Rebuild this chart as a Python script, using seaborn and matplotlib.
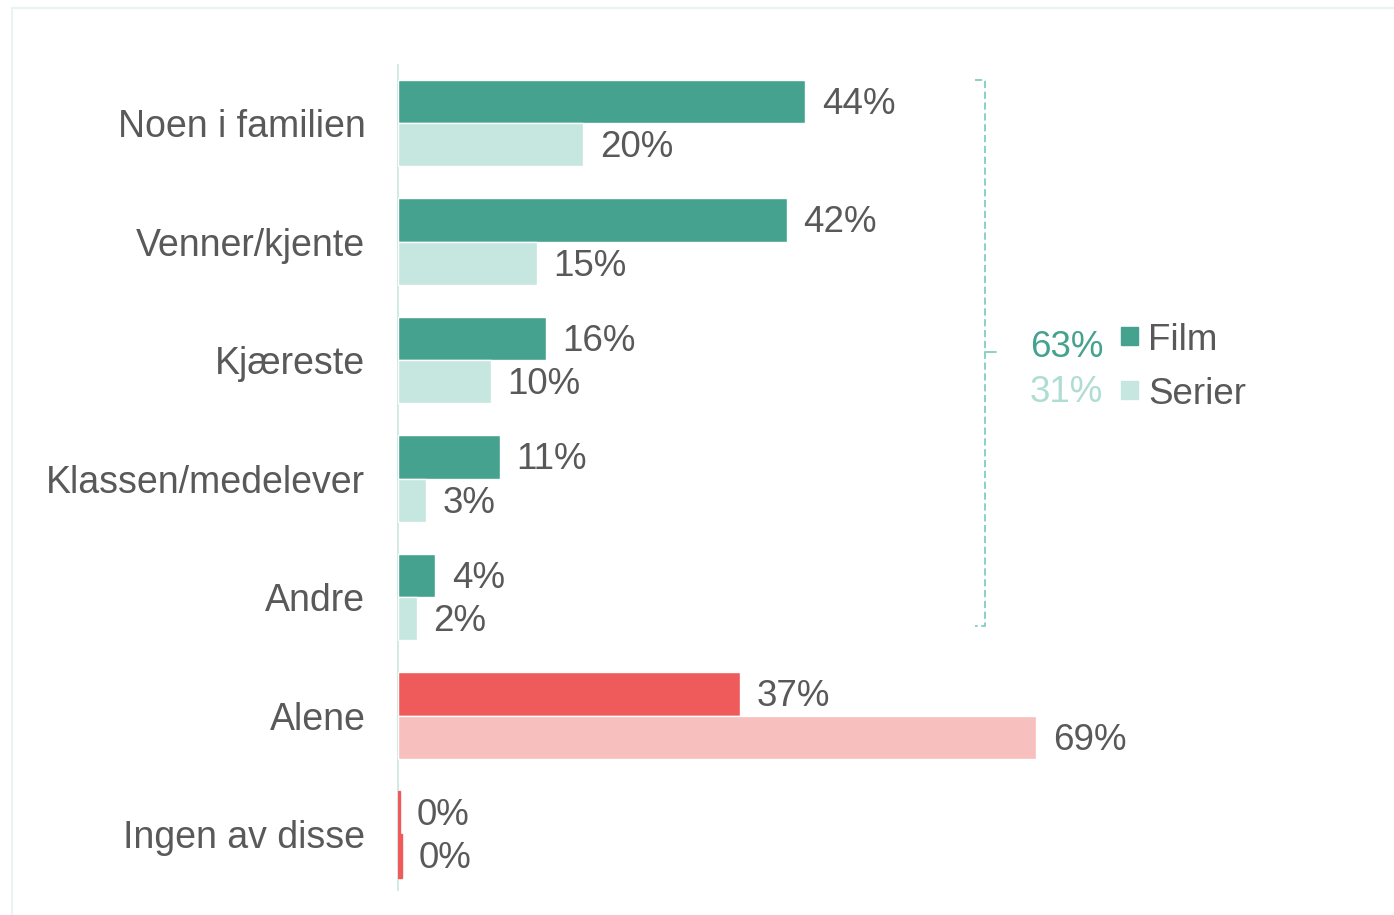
import matplotlib.pyplot as plt
import matplotlib.patches as mpatches
import seaborn as sns
import pandas as pd

# data
categories = ["Noen i familien", "Venner/kjente", "Kjæreste", "Klassen/medelever",
              "Andre", "Alene", "Ingen av disse"]
series = ["Film", "Serier"]
film = [44, 42, 16, 11, 4, 37, 0.25]
serier = [20, 15, 10, 3, 2, 69, 0.45]
totals = [63, 31]  # net "with others"

film_col = "#45A28E"
serier_col = "#C6E6E0"
alone_film_col = "#EF5B5B"
alone_serier_col = "#F7BFBE"
text_col = "#595959"

rows = []
for c, f, s in zip(categories, film, serier):
    rows.append({"Kategori": c, "Serie": "Film", "Andel": f})
    rows.append({"Kategori": c, "Serie": "Serier", "Andel": s})
df = pd.DataFrame(rows)

sns.set_style("white")
plt.rcParams["font.family"] = ["Liberation Sans", "DejaVu Sans"]

fig = plt.figure(figsize=(13.94, 9.15), dpi=100)
W, H = 1394, 915
ax = fig.add_axes([398 / W, 1 - 890 / H, (1323 - 398) / W, (890 - 65) / H])

sns.barplot(data=df, y="Kategori", x="Andel", hue="Serie", order=categories,
            hue_order=series, palette=[film_col, serier_col], width=0.73,
            orient="h", ax=ax, legend=False, errorbar=None, saturation=1)

# recolor "Alene" and "Ingen av disse"
film_bars = ax.containers[0]
serier_bars = ax.containers[1]
film_bars[5].set_facecolor(alone_film_col)
serier_bars[5].set_facecolor(alone_serier_col)
for b in (film_bars[6], serier_bars[6]):
    b.set_facecolor(alone_film_col)
    b.set_edgecolor(alone_film_col)
    b.set_linewidth(1.0)

# value labels
for cont in ax.containers:
    for b in cont:
        v = b.get_width()
        ax.annotate(f"{v:.0f}%", (v, b.get_y() + b.get_height() / 2),
                    xytext=(12, -2), textcoords="offset points",
                    ha="left", va="center", fontsize=26.5, color=text_col)

ax.set_xlim(0, 100)
ax.set_ylim(6.47, -0.49)
ax.set_xlabel("")
ax.set_ylabel("")
ax.set_xticks([])
ax.tick_params(axis="y", length=0, pad=23.5, labelsize=27, labelcolor=text_col)
for side in ["top", "right", "bottom"]:
    ax.spines[side].set_visible(False)
ax.spines["left"].set_color("#CDE8E2")
ax.spines["left"].set_linewidth(1.3)
ax.spines["left"].set_zorder(0.5)

# bracket over the "with others" groups
bx = 63.5
ax.plot([62.4, bx, bx, 62.4], [-0.365, -0.365, 4.245, 4.245],
        color="#7FCFC0", lw=1.3, ls=(0, (4, 2)), clip_on=False)
ax.plot([bx, 64.7], [1.93, 1.93], color="#7FCFC0", lw=1.3, clip_on=False)

# legend with totals
fig.text(1103 / W, 1 - 348 / H, f"{totals[0]}%", color=film_col, fontsize=26.5,
         ha="right", va="center")
fig.text(1103 / W, 1 - 392 / H, f"{totals[1]}%", color="#B0DDD3", fontsize=26.5,
         ha="right", va="center")
for yc, col, lab in [(336, film_col, series[0]), (390, serier_col, series[1])]:
    fig.patches.append(mpatches.Rectangle((1121 / W, 1 - (yc + 9) / H), 17 / W, 18 / H,
                                          transform=fig.transFigure, color=col))
    fig.text(1148 / W, 1 - (yc + 4) / H, lab, color=text_col, fontsize=26.5,
             ha="left", va="center")

# light frame
fig.patches.append(mpatches.Rectangle((12 / W, -0.1), 1.2, 1 - 8 / H + 0.1,
                                      transform=fig.transFigure, fill=False,
                                      edgecolor="#E8F4F1", lw=1.5))

fig.savefig("out.png", dpi=100)
